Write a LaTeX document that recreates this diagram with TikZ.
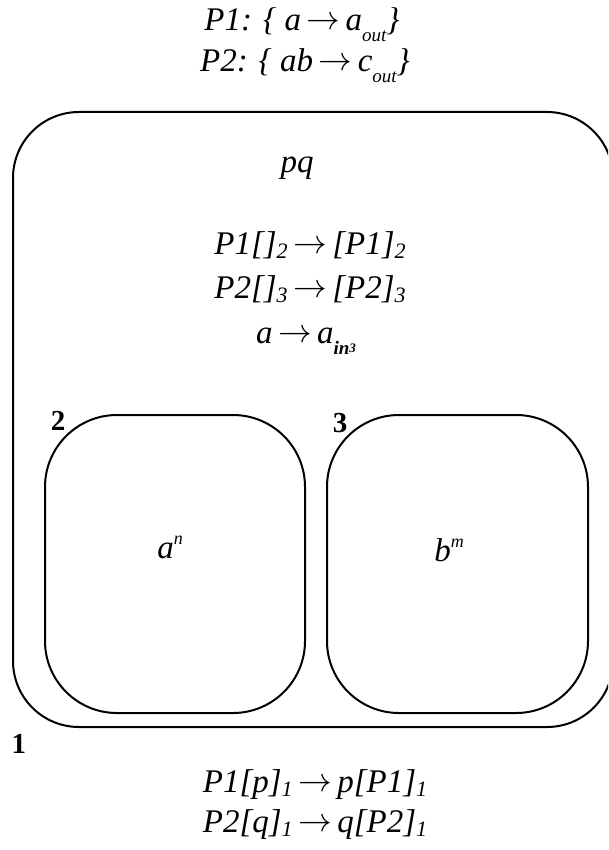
\documentclass[tikz,border=0pt]{standalone}
\usepackage{fontspec}
\setmainfont{Liberation Serif}
\usetikzlibrary{positioning}

% small lowered / raised indices in the style of the rules
\newcommand{\lowidx}[1]{\raisebox{-0.34em}{\fontsize{19}{19}\selectfont\itshape #1}}
\newcommand{\digidx}[1]{\raisebox{-0.12em}{\fontsize{22}{22}\selectfont\itshape #1}}
\newcommand{\upidx}[1]{\raisebox{0.42em}{\fontsize{18}{18}\selectfont\itshape #1}}
\newcommand{\arr}{\,\raisebox{0.02em}{\scalebox{1.35}{$\rightarrow$}}\,}

\begin{document}
\begin{tikzpicture}[
			x=1pt, y=-1pt,
			line cap=round,
			line join=round,
			rule/.style={font=\fontsize{33}{36}\selectfont\itshape, inner sep=0pt,
				text height=0.68em, text depth=0.22em},
			tag/.style={font=\fontsize{29}{30}\selectfont\bfseries, inner sep=0pt},
			membrane/.style={line width=2pt}
			]
			\useasboundingbox (0,0) rectangle (608,850);
			
			% Rules of the two agents
			\node[rule] (ruleA) at (302,28) {P1: \{ a\arr a\lowidx{out}\}};
			\node[rule] (ruleB) at (305,69) {P2: \{ ab\arr c\lowidx{out}\}};
			
			% Skin membrane 1, cut off at the right
			\begin{scope}
				\clip (0,0) rectangle (608,850);
				\draw[membrane, rounded corners=66] (13,112) rectangle (613,727);
			\end{scope}
			\node[tag] (skin) at (19,744) {1};
			
			% Contents of the skin
			\node[rule] (pq) at (297,170) {pq};
			\node[rule] (ruleC) at (310,252) {P1[]\digidx{2}\arr[P1]\digidx{2}};
			\node[rule] (ruleD) at (310,296) {P2[]\digidx{3}\arr[P2]\digidx{3}};
			\node[rule] (ruleE) at (306,341) {a\arr a\lowidx{\bfseries in\raisebox{0.1em}{\fontsize{13}{13}\selectfont 3}}};
			
			% Inner membranes 2 and 3
			\draw[membrane, rounded corners=72] (45,415) rectangle (305,713);
			\draw[membrane, rounded corners=72] (327,415) rectangle (588,713);
			\node[tag] (left) at (58,421) {2};
			\node[tag] (right) at (340,423) {3};
			\node[rule] (an) at (170,556) {a\upidx{n}};
			\node[rule] (bm) at (449,559) {b\upidx{m}};
			
			% Rules of the environment
			\node[rule] (ruleF) at (315,790) {P1[p]\digidx{1}\arr p[P1]\digidx{1}};
			\node[rule] (ruleG) at (315,830) {P2[q]\digidx{1}\arr q[P2]\digidx{1}};
		\end{tikzpicture}
\end{document}
